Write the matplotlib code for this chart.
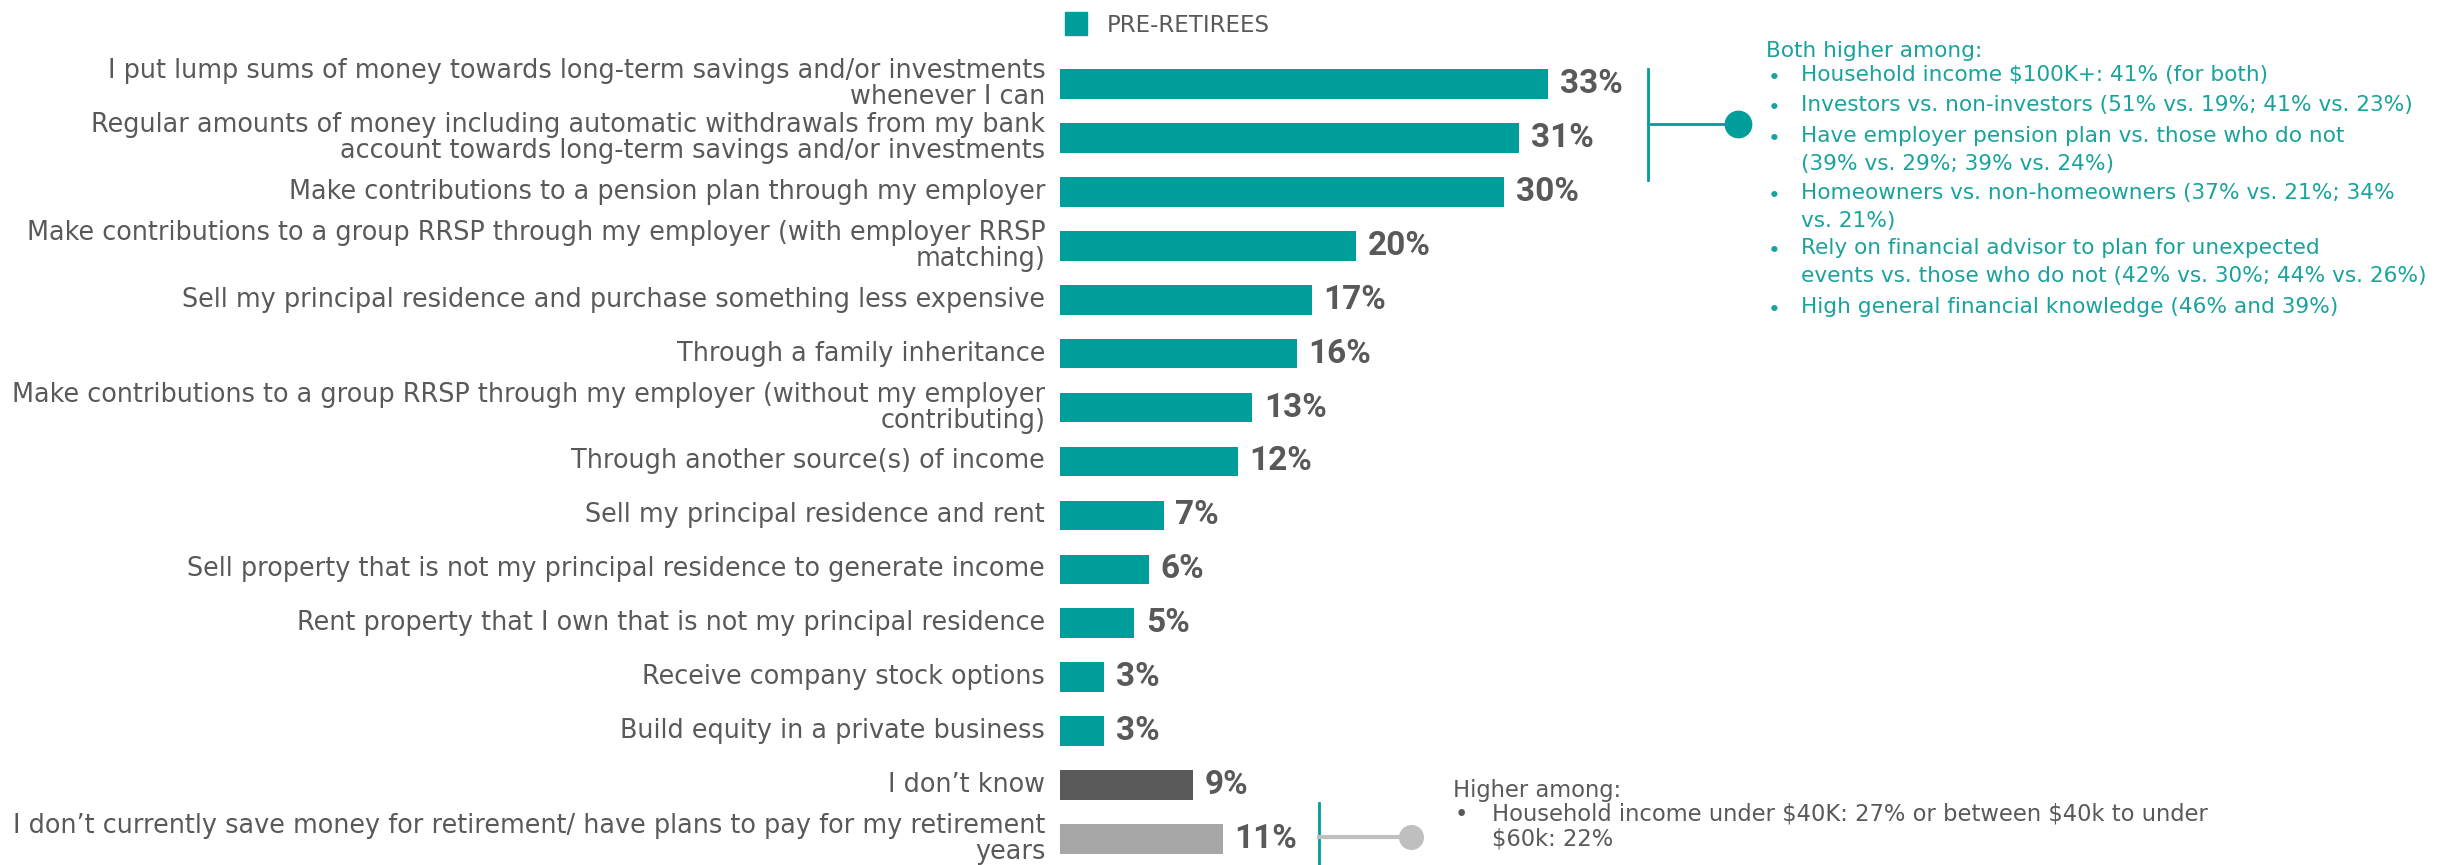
import matplotlib
matplotlib.use("Agg")
import matplotlib.pyplot as plt
from matplotlib.lines import Line2D

plt.rcParams["font.family"] = ["DejaVu Sans"]

# data
categories = [
    "I put lump sums of money towards long-term savings and/or investments\nwhenever I can",
    "Regular amounts of money including automatic withdrawals from my bank\naccount towards long-term savings and/or investments",
    "Make contributions to a pension plan through my employer",
    "Make contributions to a group RRSP through my employer (with employer RRSP\nmatching)",
    "Sell my principal residence and purchase something less expensive",
    "Through a family inheritance",
    "Make contributions to a group RRSP through my employer (without my employer\ncontributing)",
    "Through another source(s) of income",
    "Sell my principal residence and rent",
    "Sell property that is not my principal residence to generate income",
    "Rent property that I own that is not my principal residence",
    "Receive company stock options",
    "Build equity in a private business",
    "I don\u2019t know",
    "I don\u2019t currently save money for retirement/ have plans to pay for my retirement\nyears",
]
values = [33, 31, 30, 20, 17, 16, 13, 12, 7, 6, 5, 3, 3, 9, 11]
legend_label = "PRE-RETIREES"

top_note_title = "Both higher among:"
top_note_items = [
    "Household income $100K+: 41% (for both)",
    "Investors vs. non-investors (51% vs. 19%; 41% vs. 23%)",
    "Have employer pension plan vs. those who do not\n(39% vs. 29%; 39% vs. 24%)",
    "Homeowners vs. non-homeowners (37% vs. 21%; 34%\nvs. 21%)",
    "Rely on financial advisor to plan for unexpected\nevents vs. those who do not (42% vs. 30%; 44% vs. 26%)",
    "High general financial knowledge (46% and 39%)",
]
bottom_note_title = "Higher among:"
bottom_note_items = [
    "Household income under $40K: 27% or between $40k to under\n$60k: 22%",
]

TEAL = "#009E9A"
DARK = "#595959"
LIGHT = "#A6A6A6"
colors = [TEAL] * 13 + [DARK, LIGHT]

W, H = 2445, 865
fig = plt.figure(figsize=(W / 100, H / 100), dpi=100)


def fx(x):
    return x / W


def fy(y):
    return 1 - y / H


# bars area: 1% = 14.8 px, row pitch ~53.9 px
ax = fig.add_axes([fx(1060), fy(866), 592 / W, (866 - 57) / H])
ypos = list(range(len(values)))
ax.barh(ypos, values, height=0.55, color=colors)
ax.set_xlim(0, 40)
ax.set_ylim(14.5, -0.5)
ax.axis("off")

for i, (cat, v) in enumerate(zip(categories, values)):
    ax.text(-1.0, i, cat, ha="right", va="center", fontsize=18.4, color=DARK,
            linespacing=1.0, clip_on=False)
    ax.text(v + 0.8, i, f"{v}%", ha="left", va="center", fontsize=24,
            fontweight="bold", family="Roboto", color=DARK, clip_on=False)

# legend
fig.patches.append(plt.Rectangle((fx(1065), fy(35)), 22 / W, 23 / H,
                                 transform=fig.transFigure, color=TEAL))
fig.text(fx(1107), fy(25), legend_label, fontsize=16.5, color=DARK, va="center")

# top bracket
fig.add_artist(Line2D([fx(1648), fx(1648)], [fy(69), fy(180)], color=TEAL, lw=2))
fig.add_artist(Line2D([fx(1648), fx(1730)], [fy(124), fy(124)], color=TEAL, lw=2))
fig.add_artist(Line2D([fx(1738)], [fy(124)], marker="o", markersize=19,
                      color=TEAL, lw=0))

# top note
NOTE_TEAL = "#1AA39C"
NOTE_FS = 15.6
fig.text(fx(1766), fy(51), top_note_title, fontsize=NOTE_FS, color=NOTE_TEAL, va="center")
ys = [78, 108, 139, 196, 251, 310]
for y, item in zip(ys, top_note_items):
    fig.text(fx(1768), fy(y), "\u2022", fontsize=NOTE_FS, color=NOTE_TEAL, va="center")
    fig.text(fx(1801), fy(y - 13), item, fontsize=NOTE_FS, color=NOTE_TEAL, va="top",
             linespacing=1.5, parse_math=False)

# bottom bracket
fig.add_artist(Line2D([fx(1319), fx(1319)], [fy(803), fy(870)], color=TEAL, lw=2))
fig.add_artist(Line2D([fx(1319), fx(1405)], [fy(837), fy(837)], color="#BFBFBF", lw=3))
fig.add_artist(Line2D([fx(1411)], [fy(837)], marker="o", markersize=17,
                      color="#BFBFBF", lw=0))

# bottom note
fig.text(fx(1453), fy(790), bottom_note_title, fontsize=16.3, color=DARK, va="center")
fig.text(fx(1455), fy(815), "\u2022", fontsize=16.3, color=DARK, va="center")
fig.text(fx(1492), fy(815 - 13), bottom_note_items[0], fontsize=16.3, color=DARK,
         va="top", linespacing=1.15, parse_math=False)

fig.savefig("out.png", dpi=100)
